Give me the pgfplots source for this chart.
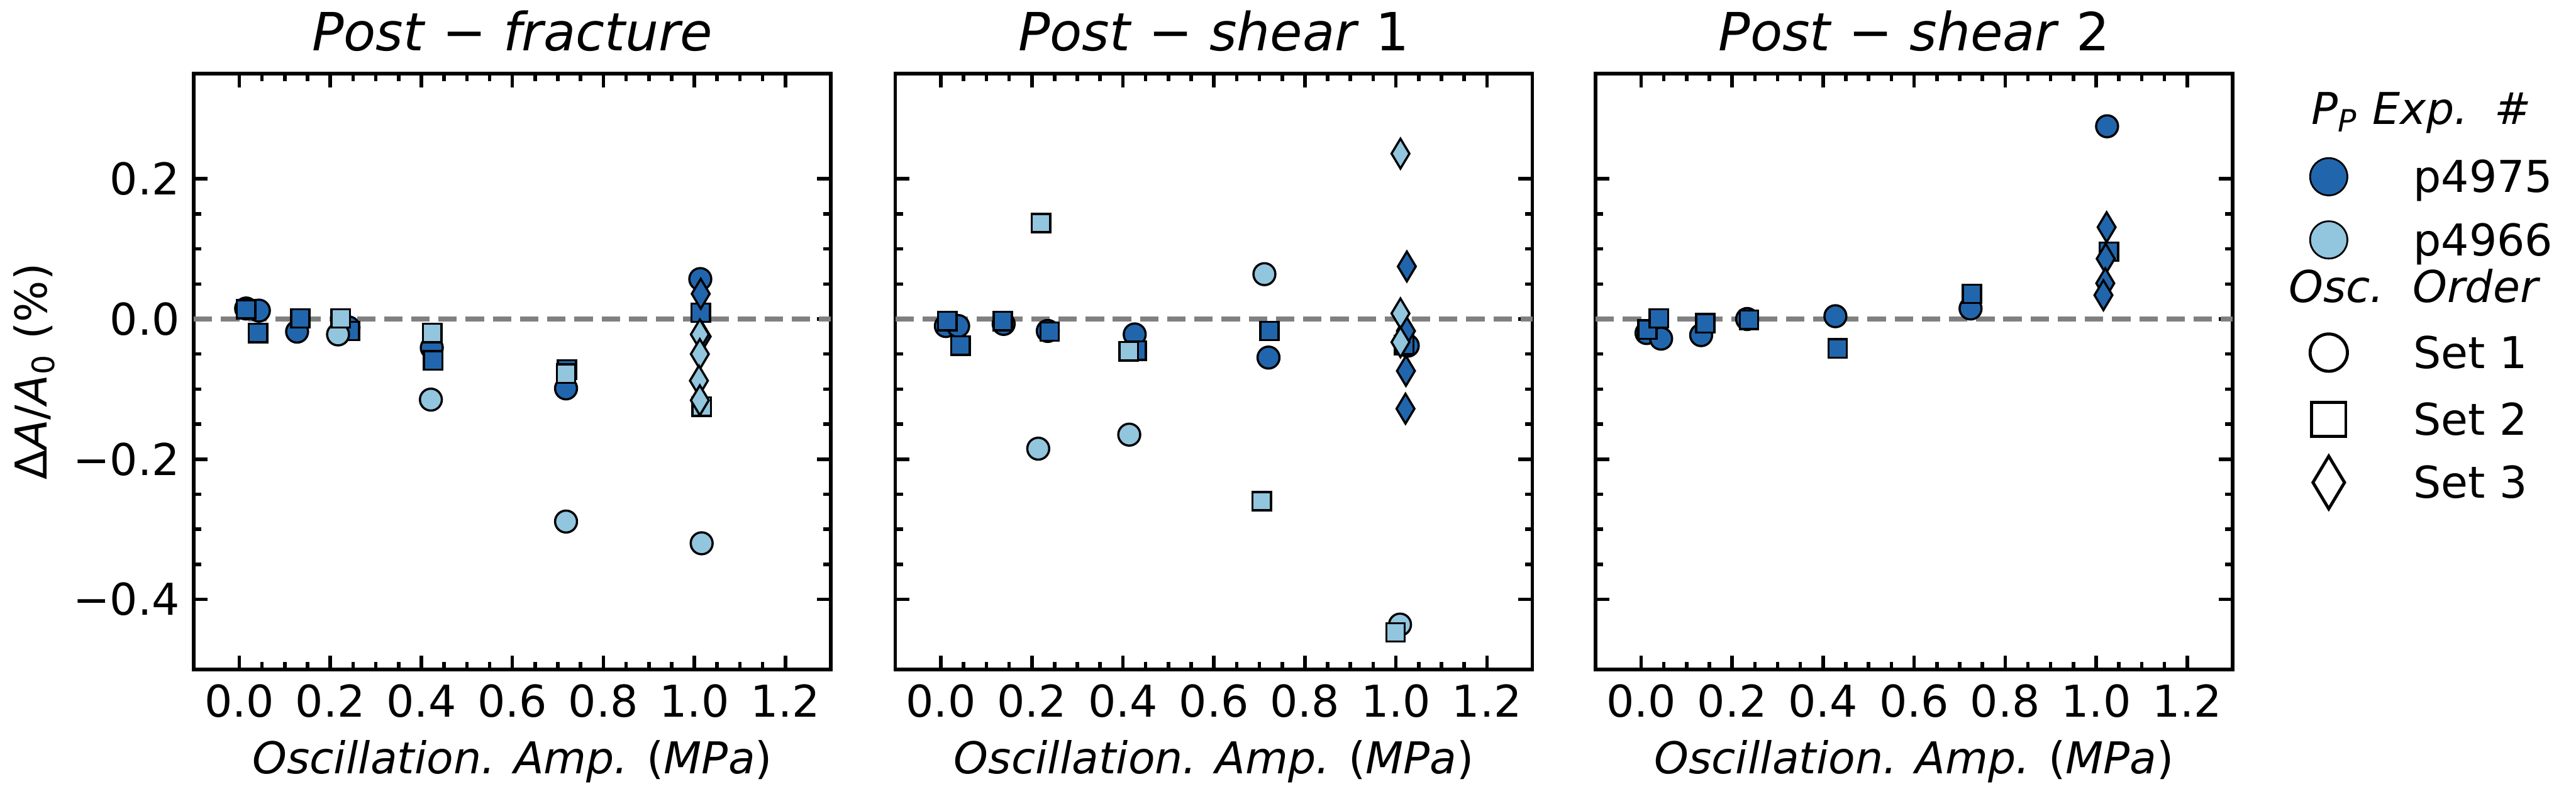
\documentclass[border=0pt]{standalone}
\usepackage{fontspec}
\setmainfont{DejaVu Sans}
\usepackage{pgfplots}
\pgfplotsset{compat=1.18}
\definecolor{dk}{HTML}{2166AC}
\definecolor{lt}{HTML}{92C5DE}
\definecolor{dashgray}{HTML}{808080}

\pgfplotsset{
  panel/.style={
    scale only axis, width=145.3pt, height=135.8pt,
    xmin=-0.1, xmax=1.3, ymin=-0.5, ymax=0.35,
    xtick={0,0.2,0.4,0.6,0.8,1.0,1.2},
    xticklabels={0.0,0.2,0.4,0.6,0.8,1.0,1.2},
    ytick={-0.4,-0.2,0,0.2},
    minor x tick num=3, minor y tick num=3,
    tick align=inside, tick pos=both,
    major tick length=3.2pt, minor tick length=1.7pt,
    tick style={black, line width=0.8pt},
    axis line style={line width=0.8pt},
    tick label style={font=\fontsize{10}{12}\selectfont},
    every x tick label/.append style={anchor=base, yshift=-10.8pt, inner sep=0pt},
    every y tick label/.append style={anchor=east, xshift=-3pt, inner sep=0pt},
    label style={font=\fontsize{10.3}{12}\selectfont},
    every axis x label/.style={at={(axis description cs:0.5,0)}, anchor=base, yshift=-23.7pt, inner sep=0pt},
    every axis y label/.style={at={(axis description cs:-0.2306,0.5)}, rotate=90, anchor=base, inner sep=0pt},
    every axis title/.style={at={(axis description cs:0.5,1)}, anchor=base, yshift=5.3pt, inner sep=0pt, font=\fontsize{12}{14}\selectfont},
    xlabel={\textit{Oscillation. Amp.} (\textit{MPa})},
    clip=false,
  },
  zeroline/.style={forget plot, dashgray, line width=1.2pt, dash pattern=on 4.2pt off 2pt},
  dc/.style={forget plot, only marks, mark=*, mark size=2.5pt, mark options={draw=black, fill=dk, line width=0.5pt}},
  ds/.style={forget plot, only marks, mark=square*, mark size=2.1pt, mark options={draw=black, fill=dk, line width=0.5pt}},
  dd/.style={forget plot, only marks, mark=diamond*, mark size=3.4pt, mark options={draw=black, fill=dk, line width=0.5pt, xscale=0.8}},
  lc/.style={forget plot, only marks, mark=*, mark size=2.5pt, mark options={draw=black, fill=lt, line width=0.5pt}},
  ls/.style={forget plot, only marks, mark=square*, mark size=2.1pt, mark options={draw=black, fill=lt, line width=0.5pt}},
  ld/.style={forget plot, only marks, mark=diamond*, mark size=3.4pt, mark options={draw=black, fill=lt, line width=0.5pt, xscale=0.8}},
}

\begin{document}
\begin{tikzpicture}
\path[use as bounding box] (-44.2pt,-29.9pt) rectangle (543.3pt,152.6pt);

% ---------------- Panel 1 ----------------
\begin{axis}[panel, at={(0pt,0pt)},
  title={\textit{Post} − \textit{fracture}},
  yticklabels={−0.4,−0.2,0.0,0.2},
  ylabel={Δ\textit{A}/\textit{A}\textsubscript{0} (\%)}]
\addplot[zeroline] coordinates {(-0.1,0) (1.3,0)};
\addplot[dc] coordinates {(0.015,0.015) (0.043,0.012) (0.127,-0.018) (0.240,-0.012) (0.423,-0.041) (0.718,-0.099) (1.013,0.057)};
\addplot[ds] coordinates {(0.015,0.014) (0.041,-0.020) (0.134,0.001) (0.243,-0.017) (0.426,-0.059) (0.720,-0.072) (1.014,0.009)};
\addplot[dd] coordinates {(1.014,0.036) (1.016,-0.025)};
\addplot[lc] coordinates {(0.217,-0.022) (0.421,-0.115) (0.718,-0.289) (1.016,-0.320)};
\addplot[ls] coordinates {(0.223,0.001) (0.424,-0.020) (0.718,-0.078) (1.016,-0.125)};
\addplot[ld] coordinates {(1.012,-0.022) (1.012,-0.050) (1.010,-0.088) (1.012,-0.116)};
\end{axis}

% ---------------- Panel 2 ----------------
\begin{axis}[panel, at={(160pt,0pt)},
  title={\textit{Post} − \textit{shear} 1},
  yticklabels={,,,}]
\addplot[zeroline] coordinates {(-0.1,0) (1.3,0)};
\addplot[dc] coordinates {(0.011,-0.010) (0.038,-0.010) (0.138,-0.007) (0.235,-0.017) (0.426,-0.022) (0.720,-0.055) (1.026,-0.038)};
\addplot[ds] coordinates {(0.014,-0.003) (0.043,-0.038) (0.136,-0.003) (0.239,-0.018) (0.430,-0.045) (0.722,-0.017) (1.018,-0.037)};
\addplot[dd] coordinates {(1.024,0.075) (1.022,-0.017) (1.022,-0.074) (1.021,-0.128)};
\addplot[lc] coordinates {(0.214,-0.185) (0.414,-0.165) (0.711,0.064) (1.009,-0.436)};
\addplot[ls] coordinates {(0.220,0.137) (0.413,-0.046) (0.705,-0.260) (0.999,-0.447)};
\addplot[ld] coordinates {(1.010,0.236) (1.010,0.008) (1.010,-0.033)};
\end{axis}

% ---------------- Panel 3 ----------------
\begin{axis}[panel, at={(319.7pt,0pt)},
  title={\textit{Post} − \textit{shear} 2},
  yticklabels={,,,},
  every axis legend/.style={at={(axis description cs:1.115,0.981)}, anchor=north west,
    draw=none, fill=none, inner sep=0pt, outer sep=0pt, row sep=0pt, column sep=0pt,
    cells={anchor=base west}, nodes={inner sep=0pt}, font=\fontsize{10}{12}\selectfont},
  legend image code/.code={\draw[#1, only marks] plot coordinates {(0pt,3.6pt)}; \path (-5pt,0pt) (19.1pt,0pt);},
  ]
\addplot[zeroline] coordinates {(-0.1,0) (1.3,0)};
\addplot[dc] coordinates {(0.012,-0.020) (0.044,-0.028) (0.132,-0.023) (0.233,0.000) (0.427,0.004) (0.724,0.015) (1.024,0.275)};
\addplot[ds] coordinates {(0.014,-0.015) (0.039,0.001) (0.141,-0.006) (0.237,-0.001) (0.432,-0.042) (0.727,0.036) (1.028,0.096)};
\addplot[dd] coordinates {(1.023,0.131) (1.021,0.086) (1.020,0.051) (1.016,0.034)};

\addlegendimage{empty legend}
\addlegendentry{\rlap{\hspace*{-23.7pt}\textit{P\textsubscript{P} Exp.\hspace{0.6em}\#}}\rule[-5pt]{0pt}{14pt}}
\addlegendimage{mark=*, mark size=4.25pt, mark options={draw=none, fill=dk}}
\addlegendentry{p4975\rule[-4.2pt]{0pt}{14.7pt}}
\addlegendimage{mark=*, mark size=4.25pt, mark options={draw=none, fill=lt}}
\addlegendentry{p4966\rule[-2.6pt]{0pt}{12.8pt}}
\addlegendimage{empty legend}
\addlegendentry{\rlap{\hspace*{-28.9pt}\textit{Osc.\hspace{0.65em}Order}}\rule[-6.6pt]{0pt}{14.6pt}}
\addlegendimage{mark=o, mark size=4.25pt, mark options={draw=black, line width=0.7pt}}
\addlegendentry{Set 1\rule[-4.6pt]{0pt}{13.1pt}}
\addlegendimage{mark=square, mark size=3.9pt, mark options={draw=black, line width=0.7pt}}
\addlegendentry{Set 2\rule[-3.9pt]{0pt}{14.5pt}}
\addlegendimage{mark=diamond, mark size=6.0pt, mark options={draw=black, line width=0.7pt, xscale=0.8}}
\addlegendentry{Set 3\rule[-4pt]{0pt}{14.5pt}}
\end{axis}
\end{tikzpicture}
\end{document}
